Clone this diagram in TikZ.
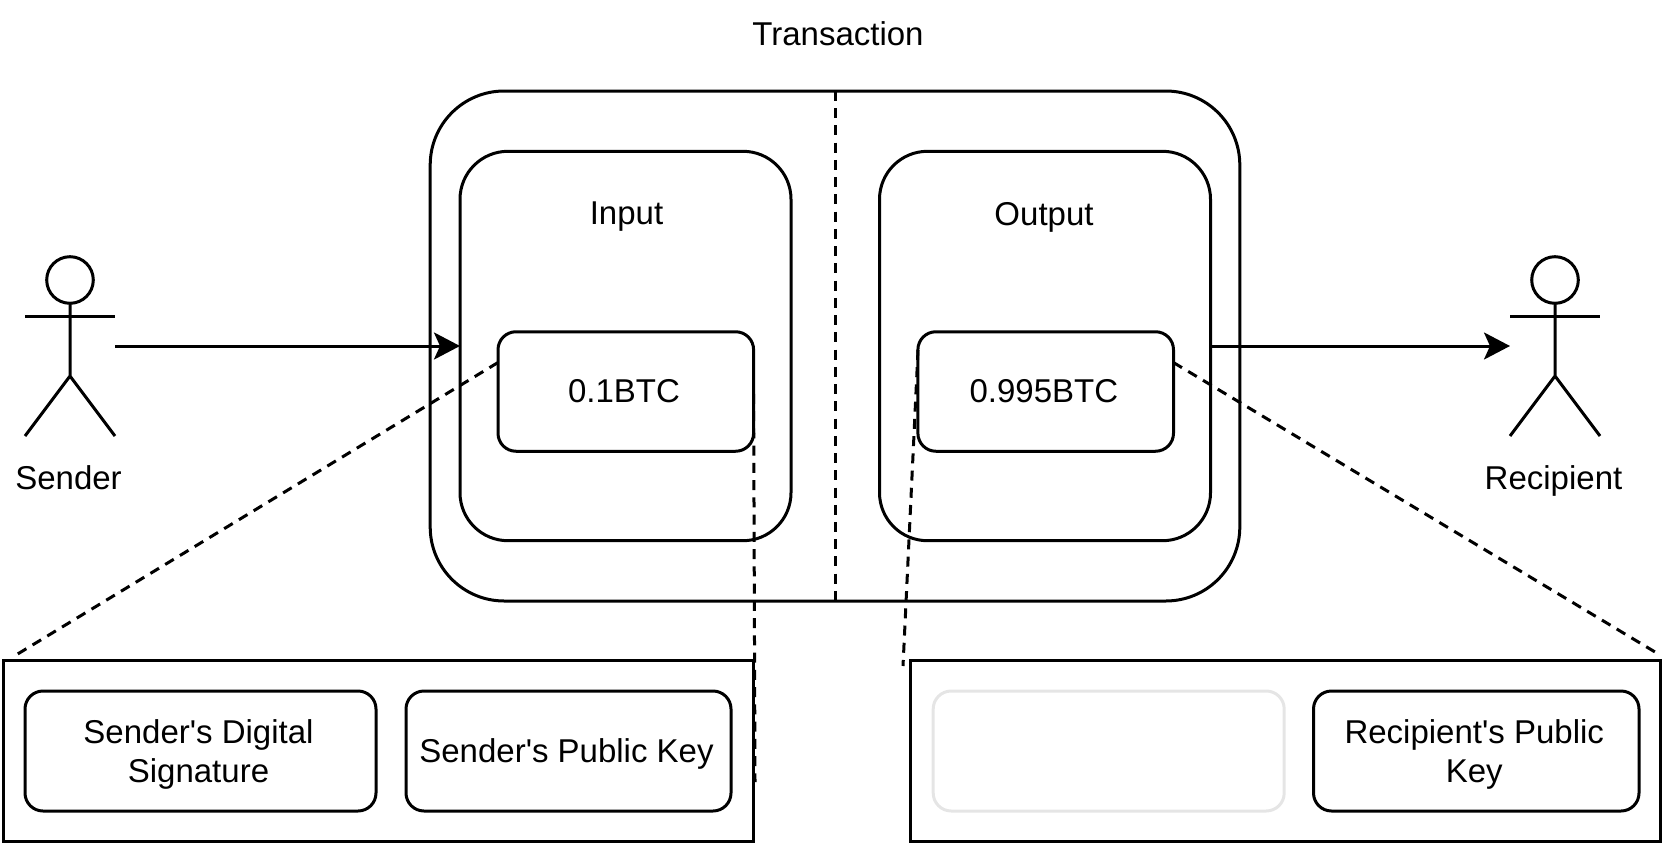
\documentclass[tikz,border=0pt]{standalone}
\usepackage{fontspec}
\setmainfont{Liberation Sans}[Ligatures=TeXOff]
\usetikzlibrary{positioning,arrows.meta}

\begin{document}
\begin{tikzpicture}[x=1pt,y=-1pt,line width=3pt,
	   every node/.style={outer sep=0pt,inner sep=0pt,align=center,font=\fontsize{33}{39}\selectfont},
	   txn/.style={draw,minimum width=809.6pt,minimum height=510pt,rounded corners=74pt},
	   part/.style={draw,minimum width=331pt,minimum height=389.4pt,rounded corners=48pt},
	   amount/.style={draw,minimum width=255.6pt,minimum height=119.5pt,rounded corners=18pt},
	   keyrow/.style={draw,minimum width=750pt,minimum height=181.2pt},
	   field/.style={draw,minimum height=120pt,rounded corners=18pt},
	   amttext/.style={xshift=-1.8pt},
	   fieldtext/.style={xshift=-2pt,yshift=-3pt},
	   link/.style={dash pattern=on 10pt off 7.24pt},
	   flow/.style={-{Stealth[length=26pt,width=27pt,inset=6pt]}}]

	\useasboundingbox (0,0) rectangle (1662,843);

	\node (title) at (838,34) {Transaction};
	\node[txn] (txn) at (835,346) {};
	\node[part] (input) at (625.5,346) {};
	\node[part] (output) at (1045,346) {};
	\node (inlabel) at (626.5,217) {Input};
	\node (outlabel) at (1044,217) {Output};
	\node[amount,label={[amttext]center:0.1BTC}] (inamt) at (625.8,391.5) {};
	\node[amount,label={[amttext]center:0.995BTC}] (outamt) at (1045.7,391.5) {};

	\node[keyrow] (inrow) at (378,751) {};
	\node[keyrow] (outrow) at (1285.2,751) {};
	\node[field,minimum width=351pt,label={[fieldtext]center:{Sender's Digital\\Signature}}] (sig) at (200.5,751) {};
	\node[field,minimum width=325pt,right=30pt of sig,label={[fieldtext]center:Sender's Public Key}] (inkey) {};
	\node[field,minimum width=351pt,draw=black!10] (blank) at (1108.7,751) {};
	\node[field,minimum width=325.5pt,right=29.3pt of blank,label={[fieldtext]center:{Recipient's Public\\Key}}] (outkey) {};

	\foreach \who/\cx/\name in {sender/70/Sender,recipient/1555/Recipient} {
		\draw (\cx,280) circle (23.3pt);
		\draw (\cx,303.3) -- (\cx,376) -- ++(-45,60) (\cx,376) -- ++(45,60);
		\draw (\cx-45,316) -- (\cx+45,316);
		\coordinate (\who-l) at (\cx-45,346);
		\coordinate (\who-r) at (\cx+45,346);
		\node[anchor=base] (\who) at (\cx-1.5,489) {\name};
	}

	\draw[flow] (sender-r) -- (input.west);
	\draw[flow] (output.east) -- (recipient-l);

	% dashed call-outs, the free ends are not on any anchor
	\coordinate (a1) at (498,362.5);
	\coordinate (a2) at (16,655);
	\coordinate (b1) at (753.6,394);
	\coordinate (b2) at (755,782);
	\coordinate (c1) at (918,350);
	\coordinate (c2) at (903,666);
	\coordinate (d1) at (1173.4,362.5);
	\coordinate (d2) at (1660,655);
	\draw[link] (txn.north) -- (txn.south);
	\draw[link] (a1) -- (a2);
	\draw[link] (b1) -- (b2);
	\draw[link] (c1) -- (c2);
	\draw[link] (d1) -- (d2);
\end{tikzpicture}
\end{document}
